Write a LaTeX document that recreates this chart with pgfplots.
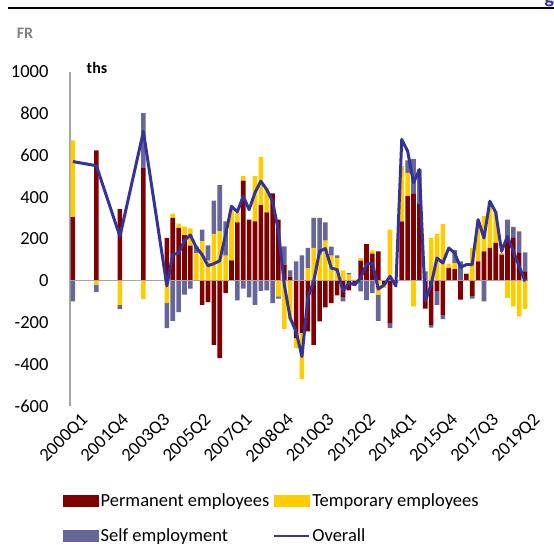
\documentclass[border=0pt]{standalone}
\usepackage{fontspec}
\setmainfont{Carlito}
\usepackage{pgfplots}
\usepackage{pgfplotstable}
\pgfplotsset{compat=1.18}

\definecolor{permred}{RGB}{128,0,0}
\definecolor{tempyel}{RGB}{255,204,0}
\definecolor{selfgrey}{RGB}{102,102,153}
\definecolor{overall}{RGB}{51,51,153}
\definecolor{axisgrey}{RGB}{166,166,166}

% i = quarter index from 2000Q1 (annual points before 2004)
\pgfplotstableread{
i  perm temp self all
0  305  367  -99  571
4  624  -19  -34  551
8  343 -115  -21  212
12 539  -88  264  715
16 205 -107 -120  -25
17 301   21 -192  128
18 253   21 -150  130
19 218   41  -67  194
20 168   83  -38  219
21   0  133   32  160
22 -115 189   56  125
23 -102  96   74   72
24 -307 224  160   82
25 -371 237  221   96
26 -59  120  165  221
27  98  240    0  357
28 280   45  -94  330
29 480   21  -38  405
30 293    0  -80  341
31 285  216 -115  421
32 362  230  -48  477
33 328  117  -46  437
34 418    0 -107  381
35 293  -75  -11  237
36  77 -232   88  -19
37  20 -185   30 -179
38 -275 -48   93 -243
39 -250 -220 122 -363
40 -243  61   96  -83
41 -307 157  144   -3
42 -195 125  176  141
43 -128 192   88  154
44 -107 120   43   61
45 -70  109   13   53
46 -78   50  -21  -51
47 -46   29    8  -11
48 -10    5   -5  -19
49  96   13  -51   13
50 176    0  -93   80
51 130   15  -59   85
52 141  -67 -125  -40
53 -16  -19    0  -20
54 -203 245  -24   21
55   0    0  -10  -25
56 285  264    0  677
57 405  112   60  621
58 416 -123  168  469
59 368    0  165  533
60 -134   0   45  -96
61 -211 205  -13  -19
62 -48  224  -67  109
63 -163 272  -21   85
64  60   21    0  157
65  56   29   62  133
66 -91    0   93   65
67  32    5    0   77
68 -72  157  -14   77
69  93  200    0  293
70 141  168  -99  205
71 157  224    0  381
72 181  152    0  328
73 125    8    0  141
74 205  -83   88  213
75 205 -123   53  141
76 133 -171  104   69
77  42 -136   94   -3
}\data

\pgfplotsset{
  base/.style={
    at={(70pt,138pt)}, anchor=south west,
    scale only axis, width=458pt, height=334pt,
    xmin=-0.5, xmax=77.5, ymin=-600, ymax=1000,
    clip=false,
  },
}

\begin{document}
\begin{tikzpicture}
\path[use as bounding box] (0,0) rectangle (554pt,544pt);

% positive parts, visible axes
\begin{axis}[base,
  ybar stacked, bar width=4.6pt,
  axis x line*=bottom, axis y line*=left,
  x axis line style={draw=none},
  y axis line style={axisgrey, line width=1.2pt},
  major tick length=0pt,
  ytick={-600,-400,...,1000},
  xtick={0,7,...,77},
  xticklabels={2000Q1,2001Q4,2003Q3,2005Q2,2007Q1,2008Q4,2010Q3,2012Q2,2014Q1,2015Q4,2017Q3,2019Q2},
  tick label style={font=\fontsize{18.5}{22}\selectfont},
  /pgf/number format/assume math mode=true,
  /pgf/number format/1000 sep={},
  y tick label style={xshift=-18pt},
  x tick label style={rotate=45, anchor=north east, xshift=4pt, yshift=-6pt},
]
\addplot[fill=permred, draw=none] table[x=i, y expr={max(\thisrow{perm},0)}] {\data};
\addplot[fill=tempyel, draw=none] table[x=i, y expr={max(\thisrow{temp},0)}] {\data};
\addplot[fill=selfgrey, draw=none] table[x=i, y expr={max(\thisrow{self},0)}] {\data};
\end{axis}

% negative parts
\begin{axis}[base, hide axis, ybar stacked, bar width=4.6pt]
\addplot[fill=permred, draw=none] table[x=i, y expr={min(\thisrow{perm},0)}] {\data};
\addplot[fill=tempyel, draw=none] table[x=i, y expr={min(\thisrow{temp},0)}] {\data};
\addplot[fill=selfgrey, draw=none] table[x=i, y expr={min(\thisrow{self},0)}] {\data};
\end{axis}

% zero line, overall line and legend
\begin{axis}[base, hide axis,
  legend columns=2,
  legend cell align=left,
  legend style={at={(-0.0153,-0.255)}, anchor=north west, draw=none, fill=none,
    font=\fontsize{18.5}{22}\selectfont, inner sep=0pt,
    /tikz/every even column/.append style={column sep=2pt},
    /tikz/row sep=17pt},
]
\draw[axisgrey, line width=1.2pt] (axis cs:-0.5,0) -- (axis cs:77.5,0);
\addlegendimage{legend image code/.code={\fill[permred] (0pt,-5.5pt) rectangle (35pt,5.5pt);}}
\addlegendentry{Permanent employees}
\addlegendimage{legend image code/.code={\fill[tempyel] (0pt,-5.5pt) rectangle (35pt,5.5pt);}}
\addlegendentry{Temporary employees}
\addlegendimage{legend image code/.code={\fill[selfgrey] (0pt,-5.5pt) rectangle (35pt,5.5pt);}}
\addlegendentry{Self employment}
\addplot[overall, line width=3pt, line join=round,
  legend image code/.code={\draw[overall, line width=2pt] (0pt,0pt) -- (35pt,0pt);}]
  table[x=i, y=all] {\data};
\addlegendentry{Overall}
\end{axis}

\draw[black, line width=1.2pt] (8pt,536pt) -- (554pt,536pt);
\node[anchor=west, text=overall, font=\fontsize{20}{24}\selectfont\bfseries] at (541pt,544pt) {g};
\node[text=gray, font=\fontsize{16}{19}\selectfont\bfseries] at (25pt,511pt) {FR};
\node[font=\fontsize{16}{19}\selectfont\bfseries] at (97pt,476pt) {ths};
\end{tikzpicture}
\end{document}
